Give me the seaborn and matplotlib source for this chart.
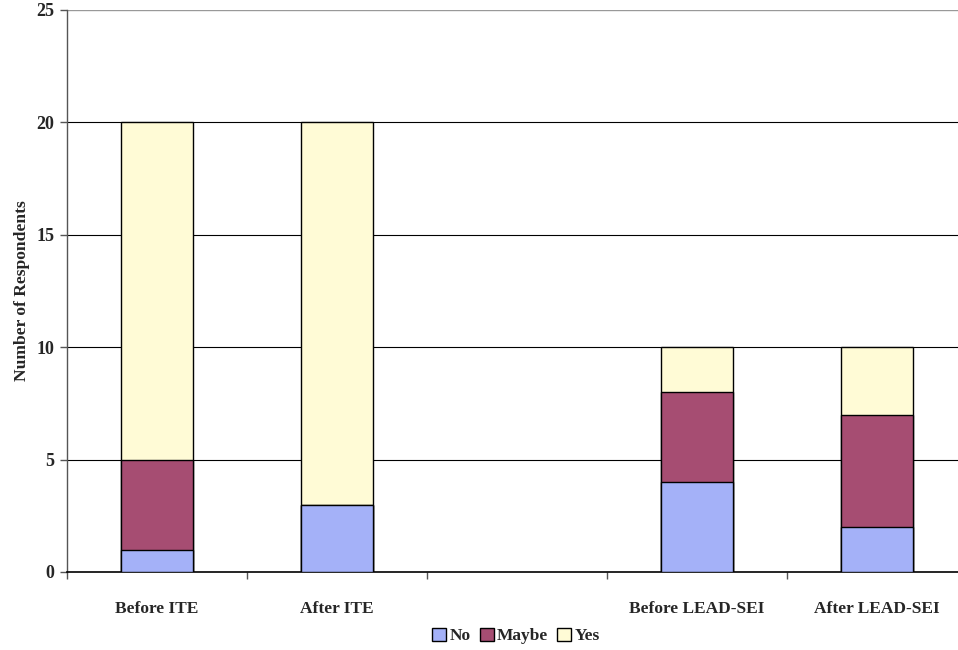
import matplotlib
matplotlib.use("Agg")
import matplotlib.pyplot as plt
from matplotlib.patches import Patch
from matplotlib.ticker import FixedLocator
import seaborn as sns
import pandas as pd
import numpy as np

categories = ["Before ITE", "After ITE", " ", "Before LEAD-SEI", "After LEAD-SEI"]
groups = ["Before ITE", "After ITE", "Before LEAD-SEI", "After LEAD-SEI"]
no_vals = [1, 3, 4, 2]
maybe_vals = [4, 0, 4, 5]
yes_vals = [15, 17, 2, 3]
series_names = ["No", "Maybe", "Yes"]
colors = {"No": "#a4b1f8", "Maybe": "#a64d72", "Yes": "#fffbd6"}

sns.set_theme(style="white")
plt.rcParams["font.family"] = ["Liberation Serif", "DejaVu Serif"]
plt.rcParams["font.weight"] = "bold"

df = pd.DataFrame({"group": groups, "No": no_vals, "Maybe": maybe_vals, "Yes": yes_vals})
df["c_no"] = df["No"]
df["c_maybe"] = df["No"] + df["Maybe"]
df["c_yes"] = df["c_maybe"] + df["Yes"]

fig = plt.figure(figsize=(9.58, 6.5), dpi=100)
ax = fig.add_axes([67/958, 1-572/650, 900/958, (572-10)/650])

for col, name in [("c_yes", "Yes"), ("c_maybe", "Maybe"), ("c_no", "No")]:
    sns.barplot(data=df, x="group", y=col, order=categories, color=colors[name],
                width=0.4, edgecolor="black", linewidth=1.0, saturation=1, ax=ax, zorder=3)

ax.set_ylim(0, 25)
ax.set_xlim(-0.5, 4.5)
ax.set_yticks([0, 5, 10, 15, 20, 25])
ax.set_yticklabels(["0", "5", "10", "15", "20", "25"], fontsize=13, fontweight="bold")
for y in [5, 10, 15, 20]:
    ax.axhline(y, color="black", lw=0.8, zorder=1)
ax.axhline(25, color="#999999", lw=1.0, zorder=1)

ax.set_xticks(range(5))
ax.set_xticklabels(categories, fontsize=12.5, fontweight="bold")
ax.tick_params(axis="x", which="major", length=0, pad=21)
ax.xaxis.set_minor_locator(FixedLocator([-0.5, 0.5, 1.5, 2.5, 3.5, 4.5]))
ax.tick_params(axis="x", which="minor", length=5, width=1, color="#555555", bottom=True)
ax.tick_params(axis="y", which="major", length=5, width=1, color="#555555", left=True, pad=4)

for s in ["top", "right"]:
    ax.spines[s].set_visible(False)
ax.spines["left"].set_color("#555555")
ax.spines["bottom"].set_color("black")
ax.spines["left"].set_linewidth(1.0)
ax.spines["bottom"].set_linewidth(1.2)

ax.set_xlabel("")
ax.set_ylabel("Number of Respondents", fontsize=12.6, fontweight="bold", labelpad=5)

handles = [Patch(facecolor=colors[n], edgecolor="black", linewidth=1.0, label=n) for n in series_names]
fig.legend(handles=handles, loc="center", bbox_to_anchor=(516/958, 1-636/650), ncol=3,
           frameon=False, handlelength=0.8, handleheight=0.8,
           handletextpad=0.2, columnspacing=0.5, prop={"weight": "bold", "size": 12.5})

fig.savefig("out.png", dpi=100)
